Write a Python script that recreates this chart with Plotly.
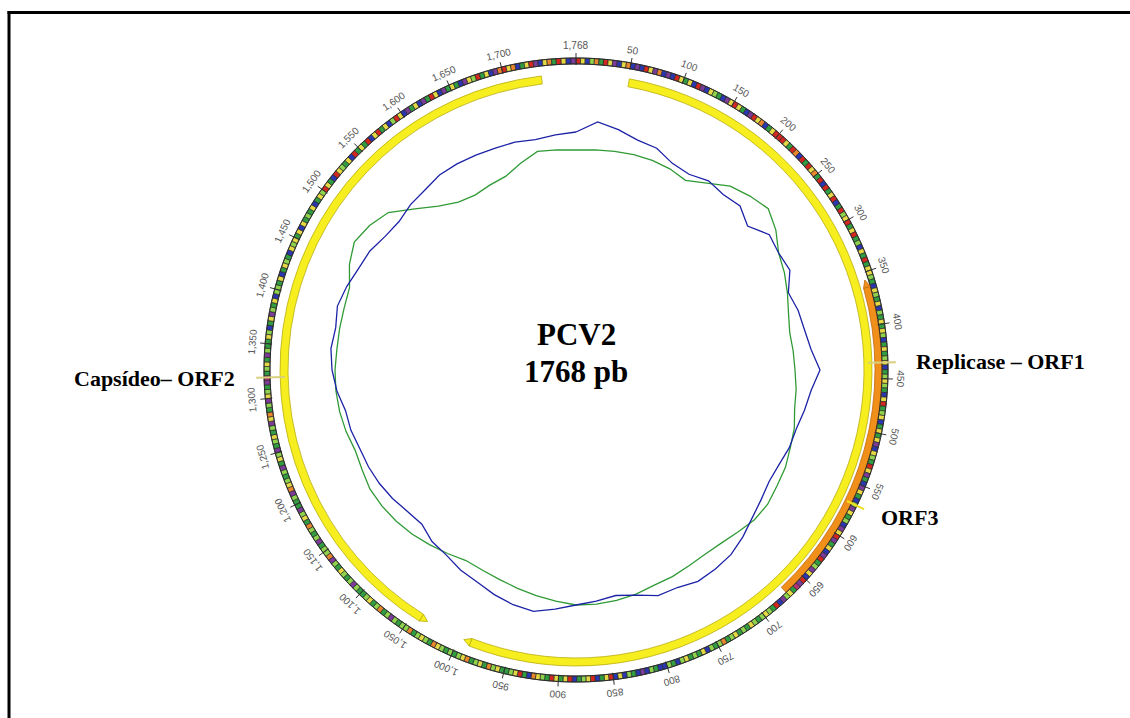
import numpy as np
import plotly.graph_objects as go

# ---------------- data ----------------
GENOME_LEN = 1768

tick_positions = list(range(50, 1701, 50)) + [1768]
tick_labels = [f"{v:,}" for v in tick_positions]

orf_labels = ["Replicase – ORF1", "Capsídeo– ORF2", "ORF3"]
orf_start = [51, 1034, 357]
orf_end = [995, 1735, 671]
orf_arrow_at = [995, 1034, 357]     # end carrying the arrow head

# sequence colour band, one string per 50-bp block (last block is 18 bp)
ring_blocks = [
    "ryblogrypbyo", "bpbrypobpbry", "gybrpbylgbpy", "rygbpryobgyr",
    "rrygrobrgryo", "grbrgyrbgrly", "rgyrglbygrgy", "ylgbylgyblgy",
    "gylbgyglybgl", "ylgbyrglybgy", "gypbylgrypgb", "pygblpyglbpy",
    "rpgybprglpyb", "rpmgylpbrgly", "lglyglgylgol", "glbyglgylbgl",
    "bbglbpbglbyb", "rygbrylgbryg", "yrglyobgrylg", "gylogylgoylg",
    "lglyoglylgol", "lglplgolgylg", "glplglyglpol", "lgplglogylpg",
    "glpoylglpgyl", "pglyglpyoglp", "ylgpmglygplg", "gylbgyplgybl",
    "lgybgylgbyly", "gybyglgybgyl", "rygbrylgybrg", "ygrbyrgyblry",
    "bpgybpgrybpg", "ygbpylrgybpo", "ryobgyrpbyog", "rybp",
]
band_palette = {
    "r": "#d3271f", "o": "#e8862c", "y": "#e4d844", "l": "#8fd34c",
    "g": "#2f9d40", "t": "#3aa89a", "b": "#2a36b2", "p": "#7b3b99",
    "m": "#b23072",
}

# skew curves: radius (px from centre) every 5 degrees
skew_theta = list(range(0, 361, 5))
blue_r = [238, 249, 244, 238, 236, 228, 226, 231, 229, 232, 224, 236,
          234, 236, 226, 230, 232, 236, 244, 236, 232, 228, 227, 224,
          223, 226, 230, 236, 241, 243, 244, 240, 240, 233, 229, 232,
          235, 240, 245, 243, 239, 234, 231, 226, 224, 218, 220, 224,
          227, 229, 230, 233, 234, 240, 244, 246, 244, 247, 244, 240,
          238, 233, 231, 234, 235, 238, 238, 237, 236, 236, 234, 236, 238]
green_r = [220, 221, 222, 223, 223, 222, 219, 228, 240, 246, 251, 244,
           234, 230, 225, 220, 217, 218, 219, 221, 222, 226, 228, 231,
           232, 234, 233, 229, 226, 225, 226, 228, 229, 232, 234, 235,
           235, 232, 229, 226, 223, 221, 220, 224, 228, 232, 235, 237,
           238, 236, 235, 238, 240, 241, 241, 240, 240, 240, 241, 250,
           256, 252, 245, 228, 214, 205, 202, 204, 206, 214, 222, 221, 220]

# ---------------- geometry ----------------
W, H = 1130, 718
CX, CY = 576, 370          # centre of the map in pixels
R_MAX = 320                # radial range -> 1 unit = 1 px
ARROW_BP = 7


def bp2deg(bp):
    return np.asarray(bp, dtype=float) / GENOME_LEN * 360.0


def paper_xy(theta_deg, r):
    t = np.radians(theta_deg)
    return (CX + r * np.sin(t)) / W, (H - CY + r * np.cos(t)) / H


fig = go.Figure()

# sequence band cells
cell_theta, cell_width, cell_color = [], [], []
for k, block in enumerate(ring_blocks):
    b0 = k * 50
    b1 = min(b0 + 50, GENOME_LEN)
    step = (b1 - b0) / len(block)
    for i, c in enumerate(block):
        cell_theta.append(float(bp2deg(b0 + (i + 0.5) * step)))
        cell_width.append(float(bp2deg(step)))
        cell_color.append(band_palette[c])

fig.add_trace(go.Barpolar(
    theta=cell_theta, width=cell_width, r=[6] * len(cell_theta),
    base=306, marker=dict(color=cell_color, line=dict(color="#2b2b2b", width=0.7)),
    hoverinfo="skip",
))

# band outlines
circ = np.linspace(0, 360, 721)
for rr in (306, 312):
    fig.add_trace(go.Scatterpolar(theta=circ, r=[rr] * len(circ), mode="lines",
                                  line=dict(color="#2b2b2b", width=1), hoverinfo="skip"))

# ORF arcs with arrow heads
orf_base = [288, 288, 299]
orf_thick = [8, 8, 7]
orf_fill = ["#f6ee1e", "#f6ee1e", "#f0901a"]
orf_edge = ["#b9ad10", "#b9ad10", "#c06a10"]
for s, e, a, b, t, f, ec in zip(orf_start, orf_end, orf_arrow_at, orf_base,
                                orf_thick, orf_fill, orf_edge):
    if a == e:
        body_s, body_e, cut = s, e - ARROW_BP, e - ARROW_BP
    else:
        body_s, body_e, cut = s + ARROW_BP, e, s + ARROW_BP
    fig.add_trace(go.Barpolar(
        theta=[float(bp2deg((body_s + body_e) / 2))], width=[float(bp2deg(body_e - body_s))],
        r=[t], base=b, marker=dict(color=f, line=dict(color=ec, width=0.8)),
        hoverinfo="skip",
    ))
    fig.add_trace(go.Scatterpolar(
        theta=[float(bp2deg(cut)), float(bp2deg(cut)), float(bp2deg(a)), float(bp2deg(cut))],
        r=[b, b + t, b + t / 2, b], mode="lines", fill="toself", fillcolor=f,
        line=dict(color=ec, width=0.8), hoverinfo="skip",
    ))

# tick marks
tt, tr = [], []
for p in tick_positions:
    d = float(bp2deg(p))
    tt += [d, d, None]
    tr += [305, 317, None]
fig.add_trace(go.Scatterpolar(theta=tt, r=tr, mode="lines",
                              line=dict(color="#333333", width=1), hoverinfo="skip"))

# skew curves
fig.add_trace(go.Scatterpolar(theta=skew_theta, r=green_r, mode="lines",
                              line=dict(color="#2f9a35", width=1.3), hoverinfo="skip"))
fig.add_trace(go.Scatterpolar(theta=skew_theta, r=blue_r, mode="lines",
                              line=dict(color="#1c22a6", width=1.3), hoverinfo="skip"))

# label leader lines
leaders = [(88.6, 292, 329, "#d8d07c"), (268.6, 291, 329, "#d8d07c"),
           (115.8, 301, 333, "#efe020")]
for th, r0, r1, col in leaders:
    fig.add_trace(go.Scatterpolar(theta=[th, th], r=[r0, r1], mode="lines",
                                  line=dict(color=col, width=2), hoverinfo="skip"))

annotations = []
# coordinate labels around the band
for p, lab in zip(tick_positions, tick_labels):
    d = float(bp2deg(p))
    x, y = paper_xy(d, 325)
    annotations.append(dict(x=x, y=y, xref="paper", yref="paper", text=lab,
                            showarrow=False, textangle=d if d <= 180 else d - 360,
                            font=dict(family="Liberation Sans, Arial", size=10, color="#555555"),
                            xanchor="center", yanchor="middle"))

serif = "Liberation Serif, Times New Roman, serif"
# centre title
annotations.append(dict(x=CX / W, y=(H - 334) / H, xref="paper", yref="paper",
                        text="<b>PCV2</b>", showarrow=False,
                        font=dict(family=serif, size=31, color="black")))
annotations.append(dict(x=CX / W, y=(H - 372) / H, xref="paper", yref="paper",
                        text="<b>1768 pb</b>", showarrow=False,
                        font=dict(family=serif, size=31, color="black")))

# ORF labels
lx, ly = paper_xy(88.6, 338)
annotations.append(dict(x=lx, y=ly, xref="paper", yref="paper", text="<b>" + orf_labels[0] + "</b>",
                        showarrow=False, xanchor="left", yanchor="middle",
                        font=dict(family=serif, size=22, color="black")))
lx, ly = paper_xy(268.6, 339)
annotations.append(dict(x=lx, y=ly, xref="paper", yref="paper", text="<b>" + orf_labels[1] + "</b>",
                        showarrow=False, xanchor="right", yanchor="middle",
                        font=dict(family=serif, size=22, color="black")))
lx, ly = paper_xy(116.0, 337)
annotations.append(dict(x=lx, y=ly, xref="paper", yref="paper", text="<b>" + orf_labels[2] + "</b>",
                        showarrow=False, xanchor="left", yanchor="middle",
                        font=dict(family=serif, size=22, color="black")))

fig.update_layout(
    width=W, height=H,
    margin=dict(l=0, r=0, t=0, b=0),
    paper_bgcolor="white", plot_bgcolor="white",
    showlegend=False,
    polar=dict(
        domain=dict(x=[(CX - R_MAX) / W, (CX + R_MAX) / W],
                    y=[(H - CY - R_MAX) / H, (H - CY + R_MAX) / H]),
        bgcolor="white",
        barmode="overlay",
        radialaxis=dict(range=[0, R_MAX], visible=False, showgrid=False),
        angularaxis=dict(rotation=90, direction="clockwise", visible=False, showgrid=False),
    ),
    annotations=annotations,
    shapes=[
        dict(type="line", xref="paper", yref="paper", x0=9 / W, x1=9 / W,
             y0=0, y1=(H - 11) / H, line=dict(color="black", width=3)),
        dict(type="line", xref="paper", yref="paper", x0=7.5 / W, x1=1,
             y0=(H - 12.5) / H, y1=(H - 12.5) / H, line=dict(color="black", width=3)),
    ],
)

fig.write_html("out.html")
